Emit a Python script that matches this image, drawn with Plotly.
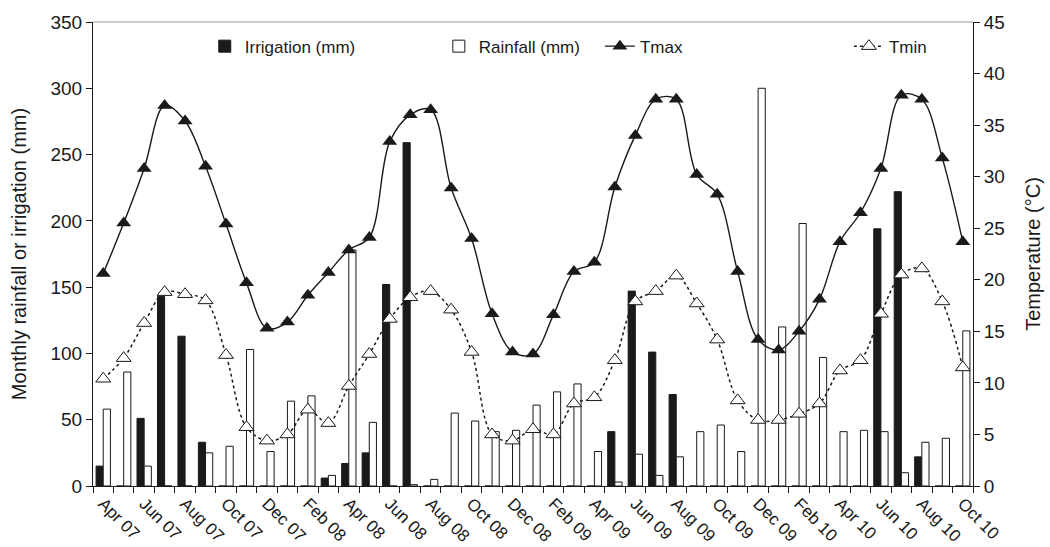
import plotly.graph_objects as go

months = ["Apr 07","May 07","Jun 07","Jul 07","Aug 07","Sep 07","Oct 07","Nov 07","Dec 07",
          "Jan 08","Feb 08","Mar 08","Apr 08","May 08","Jun 08","Jul 08","Aug 08","Sep 08","Oct 08","Nov 08","Dec 08",
          "Jan 09","Feb 09","Mar 09","Apr 09","May 09","Jun 09","Jul 09","Aug 09","Sep 09","Oct 09","Nov 09","Dec 09",
          "Jan 10","Feb 10","Mar 10","Apr 10","May 10","Jun 10","Jul 10","Aug 10","Sep 10","Oct 10"]

irrigation = [15, 0, 51, 143, 113, 33, 0, 0, 0,
              0, 0, 6, 17, 25, 152, 259, 0, 0, 0, 0, 0,
              0, 0, 0, 0, 41, 147, 101, 69, 0, 0, 0, 0,
              0, 0, 0, 0, 0, 194, 222, 22, 0, 0]

rainfall = [58, 86, 15, 0, 0, 25, 30, 103, 26,
            64, 68, 8, 178, 48, 0, 1, 5, 55, 49, 41, 42,
            61, 71, 77, 26, 3, 24, 8, 22, 41, 46, 26, 300,
            120, 198, 97, 41, 42, 41, 10, 33, 36, 117]

tmax = [20.6, 25.5, 30.8, 36.9, 35.4, 31.0, 25.4, 19.7, 15.3,
        15.9, 18.5, 20.7, 22.9, 24.1, 33.4, 36.0, 36.5, 28.9, 24.0, 16.7, 13.0,
        12.8, 16.6, 20.8, 21.7, 29.0, 34.0, 37.5, 37.5, 30.2, 28.3, 20.8, 14.2,
        13.2, 15.0, 18.1, 23.7, 26.5, 30.8, 37.9, 37.5, 31.8, 23.7]

tmin = [10.4, 12.4, 15.8, 18.8, 18.6, 18.0, 12.7, 5.7, 4.4,
        5.0, 7.4, 6.1, 9.7, 12.8, 16.2, 18.3, 18.9, 17.1, 13.0, 5.0, 4.4,
        5.5, 5.0, 8.0, 8.6, 12.2, 17.9, 18.9, 20.4, 17.7, 14.2, 8.3, 6.4,
        6.4, 7.0, 8.0, 11.2, 12.2, 16.7, 20.5, 21.1, 17.9, 11.5]

x = list(range(len(months)))
tick_idx = x[::2]
tick_text = [months[i] for i in tick_idx]

FONT = "Arial, Liberation Sans, sans-serif"
TXT = "#1a1a1a"

fig = go.Figure()
fig.add_trace(go.Bar(x=x, y=irrigation, name="Irrigation (mm)",
                     marker=dict(color="#1a1a1a", line=dict(color="#1a1a1a", width=1)),
                     legend="legend", showlegend=True))
fig.add_trace(go.Bar(x=x, y=rainfall, name="Rainfall (mm)",
                     marker=dict(color="white", line=dict(color="#1a1a1a", width=1)),
                     legend="legend2", showlegend=True))
fig.add_trace(go.Scatter(x=x, y=tmax, name="Tmax", yaxis="y2", mode="lines+markers",
                         line=dict(color="#1a1a1a", width=1.4, shape="spline", smoothing=1),
                         marker=dict(symbol="triangle-up", size=13, color="#1a1a1a"),
                         legend="legend3", showlegend=True))
fig.add_trace(go.Scatter(x=x, y=tmin, name="Tmin", yaxis="y2", mode="lines+markers",
                         line=dict(color="#1a1a1a", width=1.5, dash="dot", shape="spline", smoothing=1),
                         marker=dict(symbol="triangle-up", size=13, color="white",
                                     line=dict(color="#1a1a1a", width=1)),
                         legend="legend4", showlegend=True))

leg_common = dict(orientation="h", yanchor="middle", y=0.947, xanchor="left",
                  font=dict(family=FONT, size=17, color=TXT), bgcolor="rgba(0,0,0,0)", visible=True)

fig.update_layout(
    width=1050, height=547,
    margin=dict(l=93, r=77, t=22, b=61, autoexpand=False),
    paper_bgcolor="white", plot_bgcolor="white",
    font=dict(family=FONT, color=TXT),
    showlegend=True,
    barmode="group", bargap=0.3, bargroupgap=0,
    legend=dict(x=0.127, **leg_common),
    legend2=dict(x=0.393, **leg_common),
    legend3=dict(x=0.576, **leg_common),
    legend4=dict(x=0.859, **leg_common),
    xaxis=dict(range=[-0.5, len(months) - 0.5], tickmode="array", tickvals=tick_idx, ticktext=tick_text,
               tickangle=45, tickfont=dict(size=17, family=FONT, color=TXT), automargin=False,
               ticks="outside", ticklen=0, tickcolor="white",
               showline=True, linecolor="#1a1a1a", linewidth=1, showgrid=False, zeroline=False,
               minor=dict(tickvals=[i - 0.5 for i in range(len(months) + 1)], ticks="outside",
                          ticklen=6, tickcolor="#1a1a1a", tickwidth=1, showgrid=False)),
    yaxis=dict(range=[0, 350], dtick=50, tickfont=dict(size=19, family=FONT, color=TXT), automargin=False,
               title=dict(text="Monthly rainfall or irrigation (mm)", font=dict(size=20, family=FONT, color=TXT),
                          standoff=18),
               ticks="outside", ticklen=6, tickcolor="#1a1a1a", showline=True, linecolor="#1a1a1a",
               linewidth=1, showgrid=False, zeroline=False),
    yaxis2=dict(range=[0, 45], dtick=5, overlaying="y", side="right", automargin=False,
                tickfont=dict(size=19, family=FONT, color=TXT),
                title=dict(text="Temperature (°C)", font=dict(size=20, family=FONT, color=TXT), standoff=22),
                ticks="outside", ticklen=6, tickcolor="#1a1a1a", showline=True, linecolor="#1a1a1a",
                linewidth=1, showgrid=False, zeroline=False),
    shapes=[dict(type="line", xref="paper", yref="paper", x0=0, x1=1, y0=1, y1=1,
                 line=dict(color="#9a9a9a", width=1))],
)

fig.write_html("out.html", config={"displayModeBar": False},
               post_script="document.body.style.margin='0';document.body.style.padding='0';")
